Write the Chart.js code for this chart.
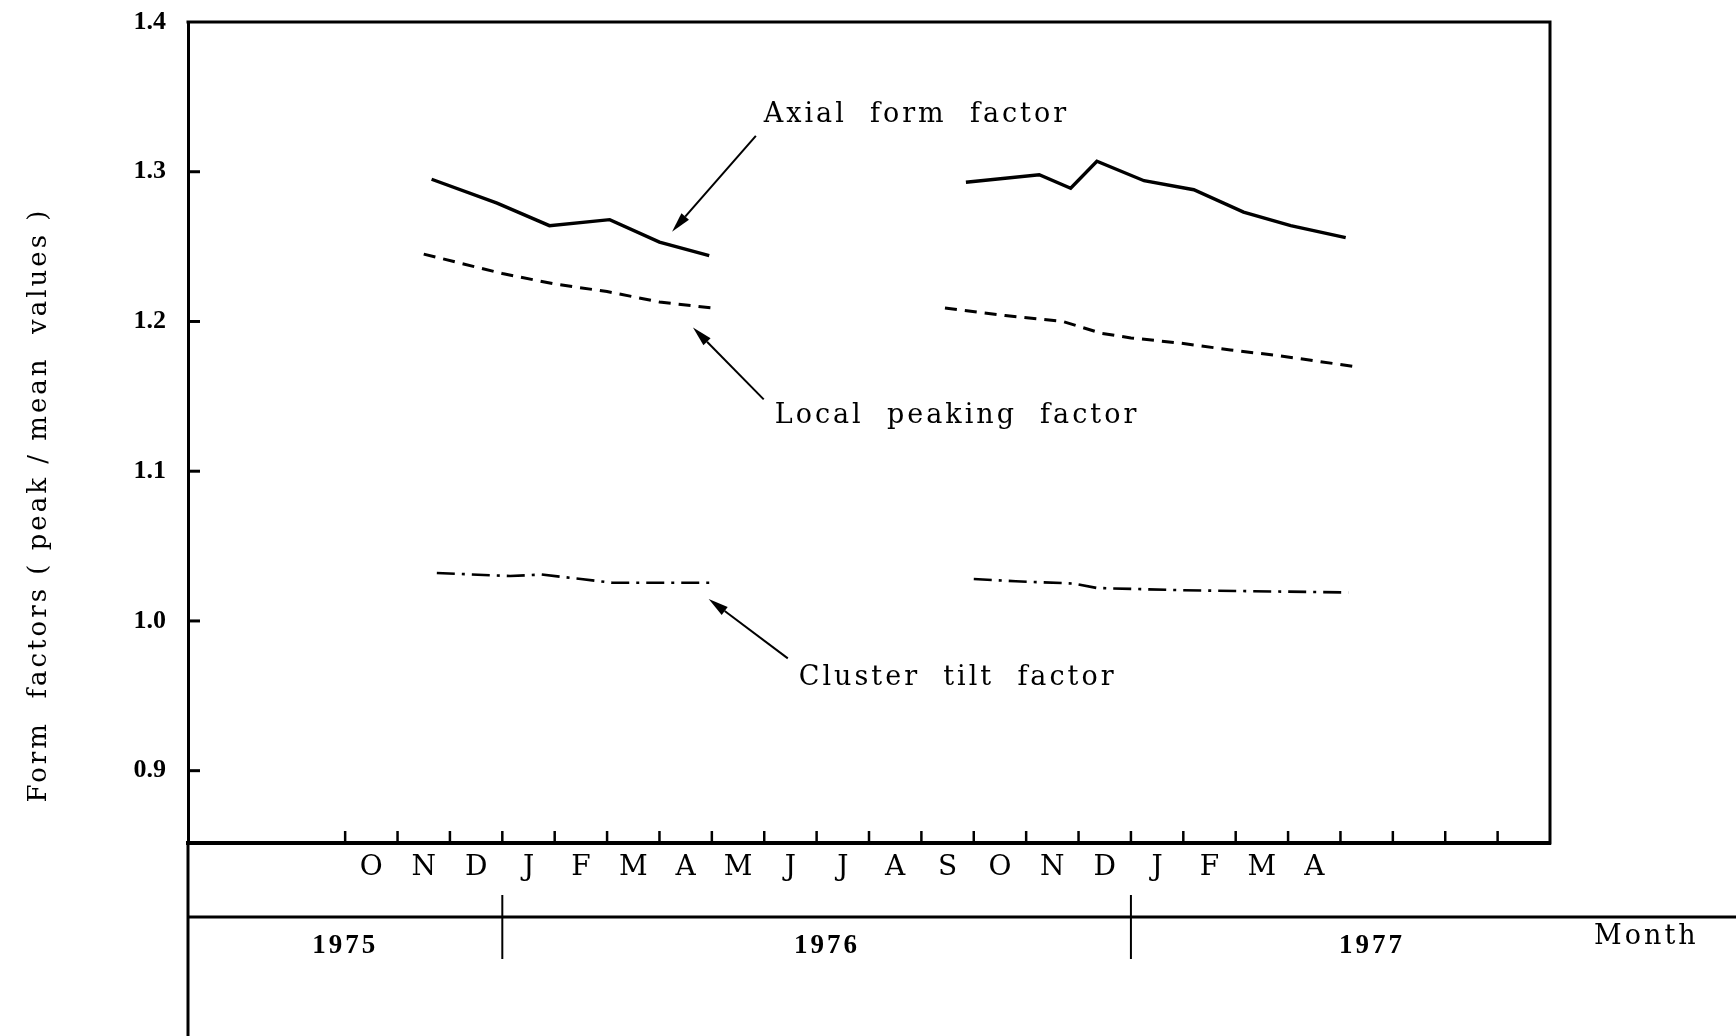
<!DOCTYPE html>
<html>
<head>
<meta charset="utf-8">
<script src="https://cdn.jsdelivr.net/npm/chart.js@4/dist/chart.umd.min.js"></script>
<style>
  html, body { margin: 0; padding: 0; background: #fff; }
  canvas { display: block; }
</style>
</head>
<body>
<canvas id="chart" width="1736" height="1036"></canvas>
<script>
// Time axis: months counted from 1 July 1975 (0) to 1 September 1977 (26).
const monthLetters = ['O','N','D','J','F','M','A','M','J','J','A','S','O','N','D','J','F','M','A'];
const firstLabelledMonth = 3;               // October 1975
const yearLabels = ['1975', '1976', '1977'];
const yearLabelMonths = [3.0, 12.2, 22.6];
const yearBoundaries = [6, 18];             // 1 Jan 1976, 1 Jan 1977
const valueTicks = [0.9, 1.0, 1.1, 1.2, 1.3, 1.4];

// Axial form factor
const axialMonths1 = [4.65, 5.9, 6.9, 8.05, 9.0, 9.95];
const axialValues1 = [1.295, 1.279, 1.264, 1.268, 1.253, 1.244];
const axialMonths2 = [14.85, 16.25, 16.85, 17.35, 18.25, 19.2, 20.15, 21.05, 22.1];
const axialValues2 = [1.293, 1.298, 1.289, 1.307, 1.294, 1.288, 1.273, 1.264, 1.256];

// Local peaking factor
const localMonths1 = [4.5, 6.0, 7.0, 8.0, 9.0, 10.0];
const localValues1 = [1.245, 1.232, 1.225, 1.220, 1.213, 1.209];
const localMonths2 = [14.45, 15.6, 16.7, 17.45, 18.0, 18.95, 19.9, 20.85, 22.25];
const localValues2 = [1.209, 1.204, 1.200, 1.192, 1.189, 1.1855, 1.181, 1.177, 1.170];

// Cluster tilt factor
const clusterMonths1 = [4.75, 6.15, 6.75, 7.5, 8.1, 9.95];
const clusterValues1 = [1.032, 1.030, 1.031, 1.028, 1.0255, 1.0255];
const clusterMonths2 = [15.0, 15.8, 16.9, 17.35, 19.0, 22.15];
const clusterValues2 = [1.028, 1.0265, 1.025, 1.022, 1.0205, 1.019];

const SERIF = '"DejaVu Serif", "Liberation Serif", serif';
const TIMES = '"Liberation Serif", "DejaVu Serif", serif';

// Two measuring campaigns per factor, separated by a gap.
function twoRuns(m1, v1, m2, v2) {
  const pts = m1.map((m, i) => ({ x: m, y: v1[i] }));
  pts.push({ x: (m1[m1.length - 1] + m2[0]) / 2, y: null });
  return pts.concat(m2.map((m, i) => ({ x: m, y: v2[i] })));
}

// Callout labels with arrows, placed in data coordinates.
const callouts = [
  { text: 'Axial  form  factor',    at: [10.99, 1.338], tail: [10.84, 1.324], head: [9.24, 1.260] },
  { text: 'Local  peaking  factor', at: [11.20, 1.137], tail: [10.99, 1.148], head: [9.64, 1.196] },
  { text: 'Cluster  tilt  factor',  at: [11.66, 0.962], tail: [11.45, 0.975], head: [9.94, 1.0147] }
];

const decorations = {
  id: 'decorations',
  afterDraw(chart) {
    const { ctx, chartArea: a, scales: { x, y } } = chart;
    ctx.save();
    ctx.strokeStyle = '#000';
    ctx.fillStyle = '#000';
    ctx.lineCap = 'butt';

    // top and right edges of the frame
    ctx.lineWidth = 3;
    ctx.beginPath();
    ctx.moveTo(a.left - 1.5, a.top);
    ctx.lineTo(a.right, a.top);
    ctx.lineTo(a.right, a.bottom + 1.5);
    ctx.stroke();

    // value axis runs on down through the date rows
    ctx.beginPath();
    ctx.moveTo(a.left, a.bottom);
    ctx.lineTo(a.left, chart.height);
    ctx.stroke();

    // inward month ticks
    ctx.lineWidth = 2.5;
    for (let m = firstLabelledMonth; m < x.max; m++) {
      const px = x.getPixelForValue(m);
      ctx.beginPath();
      ctx.moveTo(px, a.bottom);
      ctx.lineTo(px, a.bottom - 12);
      ctx.stroke();
    }

    // inward value ticks
    ctx.lineWidth = 3;
    valueTicks.forEach(v => {
      if (v >= y.max) return;
      const py = y.getPixelForValue(v);
      ctx.beginPath();
      ctx.moveTo(a.left, py);
      ctx.lineTo(a.left + 12, py);
      ctx.stroke();
    });

    // year row
    const rowY = a.bottom + 74;
    ctx.lineWidth = 3;
    ctx.beginPath();
    ctx.moveTo(a.left, rowY);
    ctx.lineTo(chart.width, rowY);
    ctx.stroke();
    ctx.lineWidth = 2;
    yearBoundaries.forEach(m => {
      const px = x.getPixelForValue(m);
      ctx.beginPath();
      ctx.moveTo(px, a.bottom + 52);
      ctx.lineTo(px, a.bottom + 116);
      ctx.stroke();
    });
    ctx.font = 'bold 27px ' + TIMES;
    ctx.letterSpacing = '3px';
    ctx.textAlign = 'center';
    ctx.textBaseline = 'middle';
    yearLabels.forEach((t, i) => ctx.fillText(t, x.getPixelForValue(yearLabelMonths[i]), a.bottom + 103));

    ctx.font = '27px ' + SERIF;
    ctx.letterSpacing = '3px';
    ctx.fillText('Month', x.getPixelForValue(27.84), a.bottom + 94);

    // value axis title
    ctx.save();
    ctx.translate(39, 505);
    ctx.rotate(-Math.PI / 2);
    ctx.font = '26px ' + SERIF;
    ctx.letterSpacing = '3px';
    ctx.textAlign = 'center';
    ctx.textBaseline = 'middle';
    ctx.fillText('Form  factors ( peak / mean  values )', 0, 0);
    ctx.restore();

    // callouts
    ctx.font = '27px ' + SERIF;
    ctx.letterSpacing = '3px';
    ctx.textAlign = 'left';
    ctx.textBaseline = 'middle';
    callouts.forEach(c => {
      ctx.fillText(c.text, x.getPixelForValue(c.at[0]), y.getPixelForValue(c.at[1]));
      const tx = x.getPixelForValue(c.tail[0]), ty = y.getPixelForValue(c.tail[1]);
      const hx = x.getPixelForValue(c.head[0]), hy = y.getPixelForValue(c.head[1]);
      const ang = Math.atan2(hy - ty, hx - tx);
      const len = 20, half = 5;
      const bx = hx - len * Math.cos(ang), by = hy - len * Math.sin(ang);
      ctx.lineWidth = 2;
      ctx.beginPath();
      ctx.moveTo(tx, ty);
      ctx.lineTo(bx, by);
      ctx.stroke();
      ctx.beginPath();
      ctx.moveTo(hx, hy);
      ctx.lineTo(bx + half * Math.sin(ang), by - half * Math.cos(ang));
      ctx.lineTo(bx - half * Math.sin(ang), by + half * Math.cos(ang));
      ctx.closePath();
      ctx.fill();
    });

    ctx.restore();
  }
};

new Chart(document.getElementById('chart'), {
  type: 'line',
  data: {
    datasets: [
      {
        label: 'Axial form factor',
        data: twoRuns(axialMonths1, axialValues1, axialMonths2, axialValues2),
        borderColor: '#000',
        borderWidth: 3.4,
        pointRadius: 0,
        tension: 0,
        spanGaps: false
      },
      {
        label: 'Local peaking factor',
        data: twoRuns(localMonths1, localValues1, localMonths2, localValues2),
        borderColor: '#000',
        borderWidth: 3,
        borderDash: [12, 8],
        pointRadius: 0,
        tension: 0,
        spanGaps: false
      },
      {
        label: 'Cluster tilt factor',
        data: twoRuns(clusterMonths1, clusterValues1, clusterMonths2, clusterValues2),
        borderColor: '#000',
        borderWidth: 2.6,
        borderDash: [18, 7, 3, 7],
        pointRadius: 0,
        tension: 0,
        spanGaps: false
      }
    ]
  },
  options: {
    responsive: false,
    animation: false,
    events: [],
    layout: { padding: { top: 22, right: 186, left: 0, bottom: 0 } },
    plugins: { legend: { display: false }, tooltip: { enabled: false }, title: { display: false } },
    scales: {
      x: {
        type: 'linear',
        min: 0,
        max: 26,
        afterFit(scale) {
          scale.height = 193;
          scale.paddingLeft = 0;
          scale.paddingRight = 0;
        },
        afterBuildTicks(scale) {
          scale.ticks = monthLetters.map((_, i) => ({ value: firstLabelledMonth + i + 0.5 }));
        },
        grid: { display: false, drawTicks: false },
        border: { display: true, color: '#000', width: 4 },
        ticks: {
          autoSkip: false,
          maxRotation: 0,
          padding: 8,
          color: '#000',
          font: { family: SERIF, size: 28 },
          callback: (value, index) => monthLetters[index]
        }
      },
      y: {
        type: 'linear',
        min: 0.8517,
        max: 1.4,
        afterFit(scale) {
          scale.width = 188;
          scale.paddingTop = 0;
          scale.paddingBottom = 0;
        },
        afterBuildTicks(scale) {
          scale.ticks = valueTicks.map(v => ({ value: v }));
        },
        grid: { display: false, drawTicks: false },
        border: { display: true, color: '#000', width: 3 },
        ticks: {
          padding: 22,
          color: '#000',
          font: { family: TIMES, size: 26, weight: 'bold' },
          callback: v => v.toFixed(1)
        }
      }
    }
  },
  plugins: [decorations]
});
</script>
</body>
</html>
